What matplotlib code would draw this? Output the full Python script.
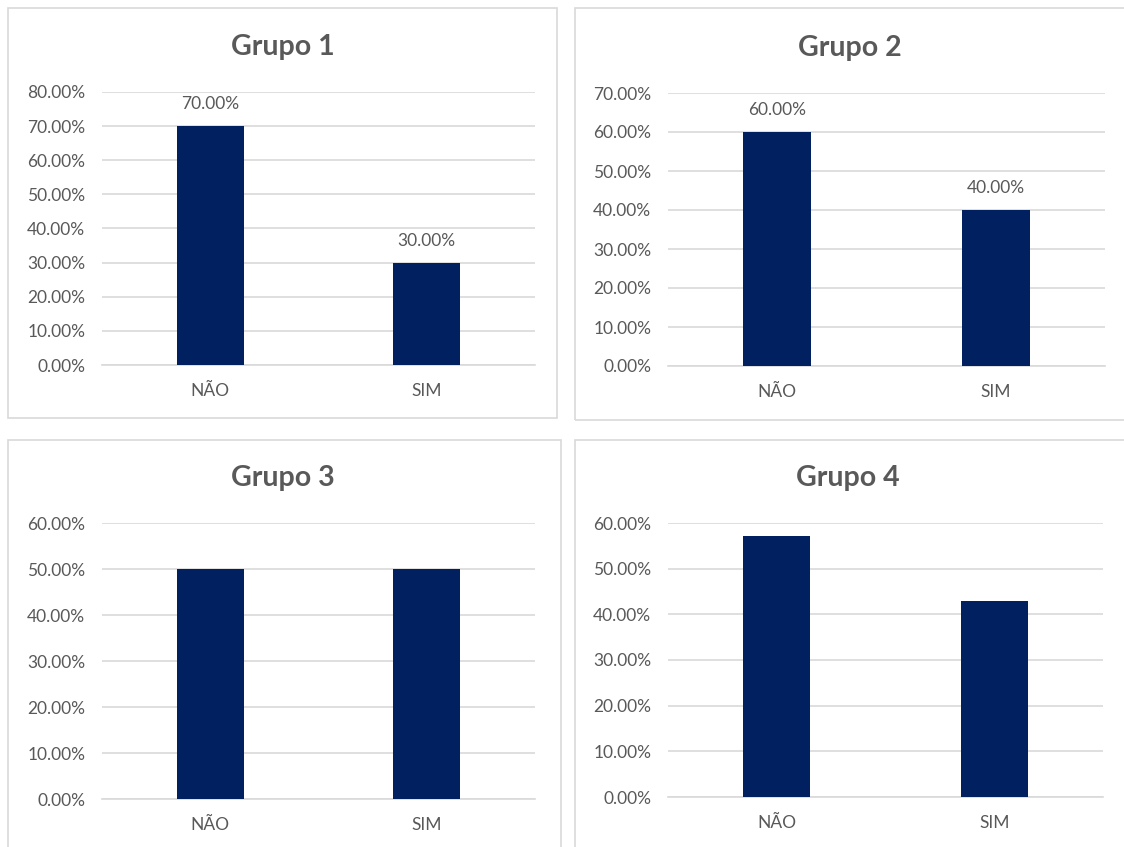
import matplotlib.pyplot as plt
from matplotlib.patches import Rectangle
from matplotlib.ticker import FuncFormatter

plt.rcParams['font.family'] = ['Lato', 'DejaVu Sans']

categories = ['NÃO', 'SIM']
titles = ['Grupo 1', 'Grupo 2', 'Grupo 3', 'Grupo 4']
values = [
    [0.70, 0.30],
    [0.60, 0.40],
    [0.50, 0.50],
    [0.5714, 0.4286],
]
y_max = [0.8, 0.7, 0.6, 0.6]
show_labels = [True, True, False, False]

# pixel layout of each panel: border box, plot area, title centre
W, H = 1124, 847
borders = [(8, 8, 557, 418), (575, 8, 1130, 420), (8, 440, 561, 860), (575, 440, 1130, 860)]
plot_boxes = [(102, 92, 535, 365), (668, 93, 1105, 366), (102, 523, 535, 799), (668, 523, 1103, 797)]
title_pos = [(283, 47), (850, 48), (283, 478), (848, 478)]

BAR = '#002060'
GRID = '#d9d9d9'
TXT = '#595959'

fig = plt.figure(figsize=(W / 100, H / 100), dpi=100)

for i in range(4):
    x0, y0, x1, y1 = borders[i]
    fig.patches.append(Rectangle((x0 / W, 1 - y1 / H), (x1 - x0) / W, (y1 - y0) / H,
                                 transform=fig.transFigure, fill=False,
                                 edgecolor=GRID, linewidth=1.2))

    px0, py0, px1, py1 = plot_boxes[i]
    ax = fig.add_axes([px0 / W, 1 - py1 / H, (px1 - px0) / W, (py1 - py0) / H])
    bars = ax.bar(categories, values[i], width=0.31, color=BAR, zorder=3)
    ax.set_xlim(-0.5, 1.5)
    ax.set_ylim(0, y_max[i])
    ax.set_yticks([k / 10 for k in range(int(round(y_max[i] * 10)) + 1)])
    ax.yaxis.set_major_formatter(FuncFormatter(lambda v, p: '{:.2f}%'.format(v * 100)))
    ax.grid(axis='y', color=GRID, linewidth=1.2, zorder=0)
    for s in ['top', 'right', 'left']:
        ax.spines[s].set_visible(False)
    ax.spines['bottom'].set_color(GRID)
    ax.spines['bottom'].set_linewidth(1.2)
    ax.tick_params(axis='y', length=0, pad=12, labelsize=12.5, labelcolor=TXT)
    ax.tick_params(axis='x', length=0, pad=13, labelsize=12.5, labelcolor=TXT)

    if show_labels[i]:
        for b, v in zip(bars, values[i]):
            ax.annotate('{:.2f}%'.format(v * 100), (b.get_x() + b.get_width() / 2, v),
                        xytext=(0, 10), textcoords='offset points',
                        ha='center', va='bottom', fontsize=12.5, color=TXT)

    tx, ty = title_pos[i]
    fig.text(tx / W, 1 - ty / H, titles[i], ha='center', va='center',
             fontsize=20.5, fontweight='bold', color=TXT)

fig.savefig('out.png', dpi=100)
